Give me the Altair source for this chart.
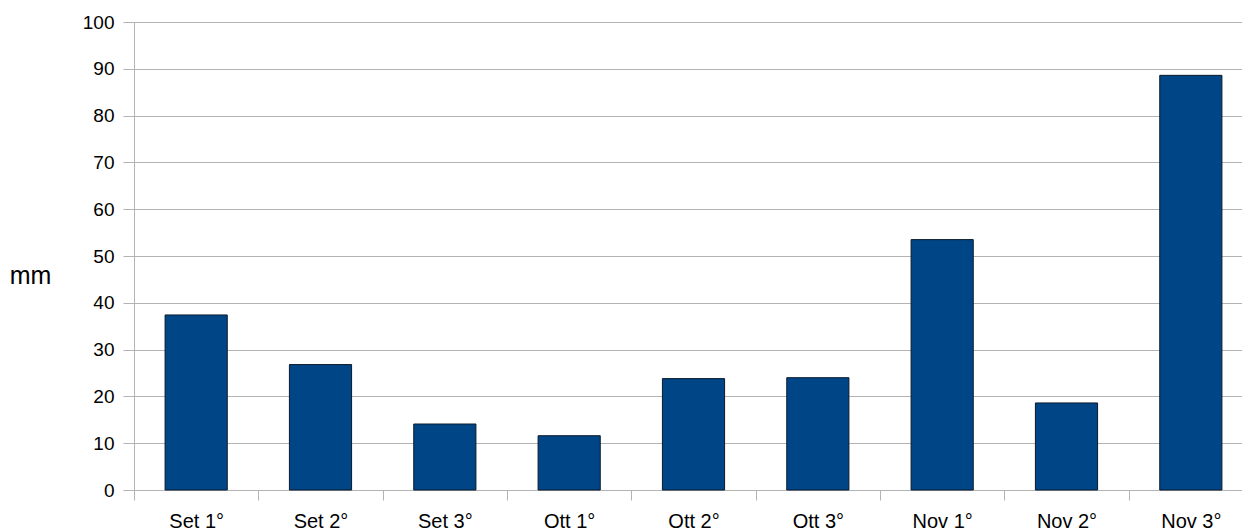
import altair as alt
import pandas as pd

# Rainfall per ten-day period (mm)
periods = ["Set 1°", "Set 2°", "Set 3°", "Ott 1°", "Ott 2°", "Ott 3°",
           "Nov 1°", "Nov 2°", "Nov 3°"]
rain_mm = [37.4, 26.8, 14.1, 11.6, 23.8, 24.0, 53.5, 18.6, 88.6]
y_ticks = [0, 10, 20, 30, 40, 50, 60, 70, 80, 90, 100]

df = pd.DataFrame({"period": periods, "mm": rain_mm})

FONT = "Liberation Sans"
GRID = "#b3b3b3"

# The category axis runs a little past the right edge of the view,
# so the last slot is partly cut off.
X_RANGE = [0, 1119]

chart = (
    alt.Chart(df)
    .mark_bar(color="#004586", stroke="#0a1a2a", strokeWidth=1,
              width=alt.RelativeBandSize(0.5))
    .encode(
        x=alt.X(
            "period:N",
            sort=periods,
            scale=alt.Scale(paddingInner=0, paddingOuter=0, range=X_RANGE),
            axis=alt.Axis(
                title=None,
                labelAngle=0,
                labelFont=FONT,
                labelFontSize=20,
                labelColor="#000000",
                labelPadding=11,
                tickBand="extent",
                tickColor=GRID,
                tickSize=10,
                domainColor=GRID,
                domainWidth=1,
                grid=False,
            ),
        ),
        y=alt.Y(
            "mm:Q",
            scale=alt.Scale(domain=[0, 100], nice=False),
            axis=alt.Axis(
                values=y_ticks,
                title="mm",
                titleAngle=0,
                titleAlign="center",
                titleBaseline="middle",
                titleX=-104,
                titleY=253,
                titleFont=FONT,
                titleFontSize=25,
                titleFontWeight="normal",
                titleColor="#000000",
                labelFont=FONT,
                labelFontSize=19,
                labelColor="#000000",
                labelPadding=9,
                tickColor=GRID,
                tickSize=11,
                domainColor=GRID,
                gridColor=GRID,
                gridWidth=1,
            ),
        ),
    )
    .properties(
        width=1108,
        height=468,
        padding={"left": 134, "top": 22, "right": 0, "bottom": 42},
        autosize=alt.AutoSizeParams(type="none"),
    )
    .configure_view(stroke=None)
    .configure(background="#ffffff")
)

chart.save("out.html", embed_options={"renderer": "svg", "actions": False})
